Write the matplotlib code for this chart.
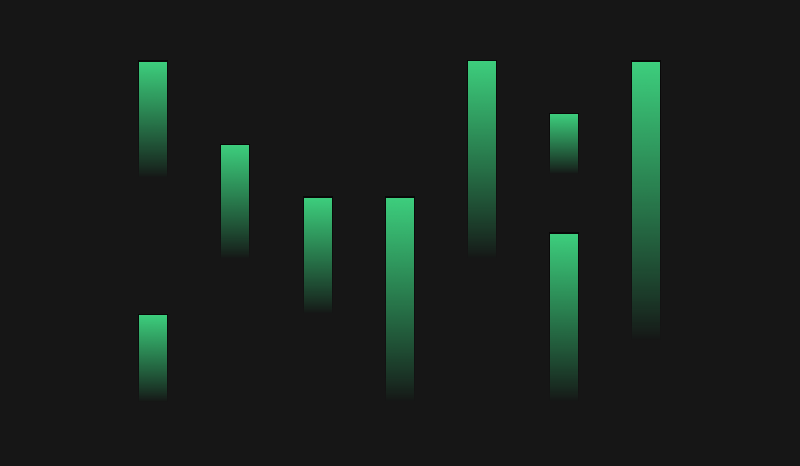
import numpy as np
import matplotlib
matplotlib.use('Agg')
import matplotlib.pyplot as plt

# floating range bars, one list entry per bar segment
categories = [0, 0, 1, 2, 3, 4, 5, 5, 6]
lows = [66, 0, 42, 26, 0, 42, 67, 0, 18]
highs = [100, 25.3, 75.3, 60, 60, 100, 84.5, 49.3, 100]

bg = '#161616'
green = np.array([62, 207, 126]) / 255.0
bar_w = 0.34

fig = plt.figure(figsize=(8, 4.66), dpi=100)
fig.patch.set_facecolor(bg)
ax = fig.add_axes([0, 0, 1, 1])
ax.set_facecolor(bg)

# gradient: full green on top, fading to nothing at the bottom
n = 256
alpha = np.linspace(1, 0, n) ** 0.85
grad = np.zeros((n, 1, 4))
grad[:, 0, :3] = green
grad[:, 0, 3] = alpha
shadow = np.zeros((n, 1, 4))
shadow[:, 0, 3] = alpha * 0.6

dx = 0.5 / 82.1  # about one pixel in x data units
dy = 0.5 / 3.4
for c, lo, hi in zip(categories, lows, highs):
    ax.imshow(shadow, extent=[c - bar_w / 2 - 2 * dx, c + bar_w / 2 + 2 * dx, lo, hi + 3 * dy],
              aspect='auto', origin='upper', interpolation='bilinear', zorder=1)
    ax.imshow(grad, extent=[c - bar_w / 2, c + bar_w / 2, lo, hi],
              aspect='auto', origin='upper', interpolation='bilinear', zorder=2)

ax.set_xlim(-1.867, 7.876)
ax.set_ylim(-18.82, 118.24)
ax.axis('off')

plt.savefig('out.png', dpi=100, facecolor=bg)
